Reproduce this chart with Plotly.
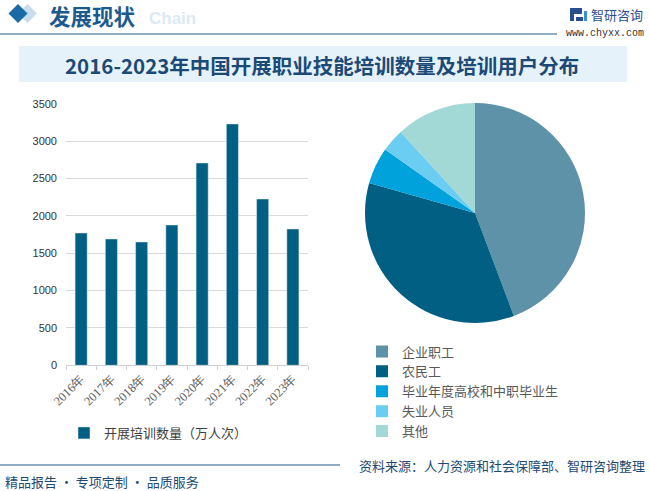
import plotly.graph_objects as go

years = ["2016年", "2017年", "2018年", "2019年", "2020年", "2021年", "2022年", "2023年"]
training = [1770, 1690, 1650, 1877, 2707, 3229, 2225, 1824]
bar_name = "开展培训数量（万人次）"

groups = ["企业职工", "农民工", "毕业年度高校和中职毕业生", "失业人员", "其他"]
shares = [44.2, 35.1, 5.4, 3.4, 11.8]
pie_colors = ["#5e92a8", "#005f83", "#00a2dc", "#6bcdf2", "#a2d9d6"]

W, H = 650, 491
def px(x): return x / W
def py(y): return 1 - y / H

fig = go.Figure()
fig.add_trace(go.Bar(
    x=years, y=training, name=bar_name, marker_color="#005f83",
    width=0.4, xaxis="x", yaxis="y", legend="legend"))
fig.add_trace(go.Pie(
    labels=groups, values=shares, sort=False, direction="clockwise", rotation=0,
    marker=dict(colors=pie_colors, line=dict(width=0)), textinfo="none",
    hoverinfo="label+percent",
    domain=dict(x=[px(365), px(585)], y=[py(323), py(103)]), legend="legend2"))

shapes = [
    # header diamonds
    dict(type="path", path=f"M {px(18)} {py(13.5)} L {px(27.5)} {py(4)} L {px(37)} {py(13.5)} L {px(27.5)} {py(23)} Z",
         xref="paper", yref="paper", fillcolor="#c7dced", line=dict(width=0)),
    dict(type="path", path=f"M {px(8.5)} {py(13.5)} L {px(18)} {py(4)} L {px(27.5)} {py(13.5)} L {px(18)} {py(23)} Z",
         xref="paper", yref="paper", fillcolor="#1a6aa6", line=dict(width=0)),
    # header line
    dict(type="line", x0=0, x1=px(557), y0=py(34), y1=py(34), xref="paper", yref="paper",
         line=dict(color="#1f5c8c", width=1.2)),
    # title box
    dict(type="rect", x0=px(19), x1=px(627), y0=py(82), y1=py(46), xref="paper", yref="paper",
         fillcolor="#e6f2fa", line=dict(width=0), layer="below"),
    # logo icon
    dict(type="path", path=f"M {px(570)} {py(8)} L {px(582)} {py(8)} L {px(582)} {py(14)} L {px(574)} {py(14)} L {px(574)} {py(21)} L {px(570)} {py(21)} Z",
         xref="paper", yref="paper", fillcolor="#2a4f8f", line=dict(width=0)),
    dict(type="rect", x0=px(576), x1=px(583), y0=py(21), y1=py(17), xref="paper", yref="paper",
         fillcolor="#2a4f8f", line=dict(width=0)),
    dict(type="rect", x0=px(584), x1=px(587), y0=py(21), y1=py(11), xref="paper", yref="paper",
         fillcolor="#3a8fd0", line=dict(width=0)),
    # footer line
    dict(type="line", x0=0, x1=px(340), y0=py(465), y1=py(465), xref="paper", yref="paper",
         line=dict(color="#1f5c8c", width=1.2)),
]

annotations = [
    dict(text="<b>Chain</b>", x=px(198), y=py(18), xref="paper", yref="paper", xanchor="right", yanchor="middle",
         showarrow=False, font=dict(family="Liberation Sans", size=17, color="#dce9f4")),
    dict(text="<b>发展现状</b>", x=px(47), y=py(16), xref="paper", yref="paper", xanchor="left", yanchor="middle",
         showarrow=False, font=dict(family="Noto Sans CJK SC", size=21.5, color="#1b5a8e")),
    dict(text="智研咨询", x=px(589), y=py(14), xref="paper", yref="paper", xanchor="left", yanchor="middle",
         showarrow=False, font=dict(family="Noto Sans CJK SC", size=13, color="#2a4f8f")),
    dict(text="www.chyxx.com", x=px(646), y=py(33.5), xref="paper", yref="paper", xanchor="right", yanchor="middle",
         showarrow=False, font=dict(family="Liberation Mono", size=10, color="#333333")),
    dict(text="<b>2016-2023年中国开展职业技能培训数量及培训用户分布</b>", x=px(322), y=py(65), xref="paper", yref="paper",
         xanchor="center", yanchor="middle", showarrow=False,
         font=dict(family="Noto Sans CJK SC", size=20.5, color="#1c4a76")),
    dict(text="资料来源：人力资源和社会保障部、智研咨询整理", x=px(647), y=py(465), xref="paper", yref="paper",
         xanchor="right", yanchor="middle", showarrow=False,
         font=dict(family="Noto Sans CJK SC", size=13, color="#1b4a74")),
    dict(text="精品报告 · 专项定制 · 品质服务", x=px(3), y=py(481), xref="paper", yref="paper",
         xanchor="left", yanchor="middle", showarrow=False,
         font=dict(family="Noto Sans CJK SC", size=13, color="#1b4a74")),
]

fig.update_layout(
    width=W, height=H, margin=dict(l=0, r=0, t=0, b=0, autoexpand=False),
    paper_bgcolor="white", plot_bgcolor="white",
    font=dict(family="Noto Sans CJK SC", size=11, color="#404040"),
    shapes=shapes, annotations=annotations,
    xaxis=dict(domain=[px(66), px(308)], anchor="y", tickangle=-45, showgrid=False, automargin=False,
               showline=True, linecolor="#d0d0d0", ticks="outside", tickson="boundaries",
               ticklen=4, tickcolor="#d0d0d0", tickfont=dict(size=12.5, color="#595959", family="Liberation Serif")),
    yaxis=dict(domain=[py(365.3), py(103.7)], anchor="x", range=[0, 3500], dtick=500, automargin=False,
               showgrid=True, gridcolor="#d9d9d9", zeroline=False, showline=False,
               tickfont=dict(size=11, color="#333333", family="Liberation Sans"), ticks="", ticklabelstandoff=8),
    legend=dict(x=px(64), y=py(433), xanchor="left", yanchor="middle", orientation="h",
                font=dict(size=13, color="#404040"), bgcolor="rgba(0,0,0,0)"),
    legend2=dict(x=px(362), y=py(391.5), xanchor="left", yanchor="middle", orientation="v",
                 font=dict(size=13, color="#595959"), bgcolor="rgba(0,0,0,0)", tracegroupgap=0,
                 itemwidth=30),
    showlegend=True,
)

fig.write_html("out.html", config={"displayModeBar": False},
               post_script="document.body.style.margin='0';document.body.style.overflow='hidden';")
